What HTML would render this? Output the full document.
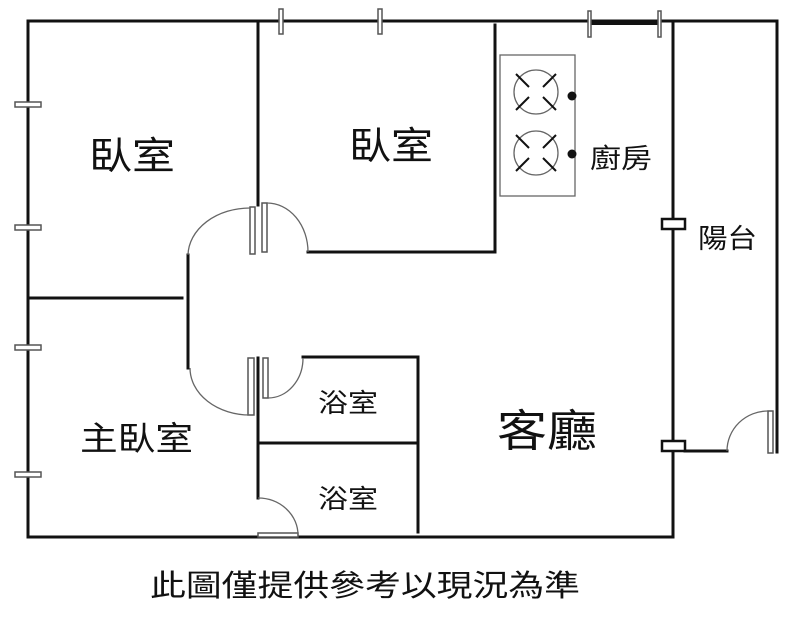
<!DOCTYPE html>
<html><head><meta charset="utf-8"><style>
body{margin:0;background:#fff;width:800px;height:634px;overflow:hidden}
svg{display:block}
text{font-family:"Liberation Sans","Noto Sans CJK TC",sans-serif;fill:#111}
</style></head><body>
<svg width="800" height="634" viewBox="0 0 800 634">
<g stroke="#111" stroke-width="3" fill="none" stroke-linecap="square">
<path d="M28 21 H777 V452"/>
<path d="M28 21 V537 H673 V21"/>
<path d="M258 21 V205"/>
<path d="M495 25 V252 H308"/>
<path d="M28 298 H182"/>
<path d="M188 255 V368"/>
<path d="M258 358 V498"/>
<path d="M303 357 H418 V532"/>
<path d="M258 443 H418"/>
<path d="M685 451 H727"/>
</g>
<path d="M590 23 H660" stroke="#111" stroke-width="4"/>
<g stroke="#555" stroke-width="1.5" fill="#fff">
<rect x="15" y="102" width="26" height="5"/>
<rect x="15" y="225" width="26" height="5"/>
<rect x="15" y="345" width="26" height="5"/>
<rect x="15" y="472" width="26" height="5"/>
<rect x="279" y="9" width="4" height="25"/>
<rect x="378" y="9" width="4" height="25"/>
<rect x="588" y="11" width="3" height="26"/>
<rect x="658" y="11" width="3" height="26"/>
<rect x="250" y="207" width="5" height="47"/>
<rect x="262" y="203" width="5" height="49"/>
<rect x="248" y="358" width="6" height="57"/>
<rect x="263" y="358" width="5" height="40"/>
<rect x="258" y="533" width="40" height="4"/>
<rect x="768" y="411" width="5" height="42"/>
</g>
<g stroke="#111" stroke-width="2.5" fill="#fff">
<rect x="662" y="219" width="23" height="10"/>
<rect x="662" y="441" width="23" height="10"/>
</g>
<g stroke="#666" stroke-width="1.3" fill="none">
<path d="M250 208 A62 48 0 0 0 188 255"/>
<path d="M267 203 A41 49 0 0 1 308 252"/>
<path d="M190 368 A60 47 0 0 0 250 415"/>
<path d="M268 398 A35 40 0 0 0 303 358"/>
<path d="M258 498 A40 37 0 0 1 298 535"/>
<path d="M727 451 A41 40 0 0 1 768 411"/>
<rect x="500" y="55" width="75" height="141"/>
<circle cx="536" cy="92" r="22"/>
<circle cx="536" cy="153" r="22"/>
</g>
<g stroke="#111" stroke-width="2">
<path d="M516 74 L529 87 M543 97 L556 110 M556 74 L543 87 M529 97 L516 110"/>
<path d="M516 135 L529 148 M543 158 L556 171 M556 135 L543 148 M529 158 L516 171"/>
</g>
<circle cx="572" cy="96" r="4.5" fill="#111"/>
<circle cx="572" cy="154" r="4.5" fill="#111"/>
<g lengthAdjust="spacingAndGlyphs">
<text x="89" y="169" font-size="38" textLength="86" lengthAdjust="spacingAndGlyphs">臥室</text>
<text x="349" y="159" font-size="38" textLength="84" lengthAdjust="spacingAndGlyphs">臥室</text>
<text x="590" y="168" font-size="27" textLength="62" lengthAdjust="spacingAndGlyphs">廚房</text>
<text x="698" y="248" font-size="27" textLength="59" lengthAdjust="spacingAndGlyphs">陽台</text>
<text x="318" y="412" font-size="26" textLength="60" lengthAdjust="spacingAndGlyphs">浴室</text>
<text x="318" y="508" font-size="26" textLength="60" lengthAdjust="spacingAndGlyphs">浴室</text>
<text x="80" y="450" font-size="33" textLength="113" lengthAdjust="spacingAndGlyphs">主臥室</text>
<text x="497" y="446" font-size="44" textLength="100" lengthAdjust="spacingAndGlyphs">客廳</text>
<text x="150" y="596" font-size="30" textLength="430" lengthAdjust="spacingAndGlyphs">此圖僅提供參考以現況為準</text>
</g>
</svg>
</body></html>
